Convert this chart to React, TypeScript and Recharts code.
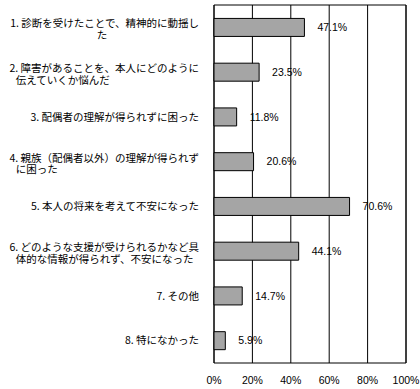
import React from "react";
import {
  BarChart,
  Bar,
  XAxis,
  YAxis,
  CartesianGrid,
  LabelList,
  ReferenceArea,
} from "recharts";

const categories = [
  "1. 診断を受けたことで、精神的に動揺し\nた",
  "2. 障害があることを、本人にどのように\n伝えていくか悩んだ",
  "3. 配偶者の理解が得られずに困った",
  "4. 親族（配偶者以外）の理解が得られず\nに困った",
  "5. 本人の将来を考えて不安になった",
  "6. どのような支援が受けられるかなど具\n体的な情報が得られず、不安になった",
  "7. その他",
  "8. 特になかった",
];
const percents = [47.1, 23.5, 11.8, 20.6, 70.6, 44.1, 14.7, 5.9];
const xTicks = [0, 20, 40, 60, 80, 100];

const data = categories.map((name, i) => ({ name, value: percents[i] }));

const JP = "'Noto Sans CJK JP', 'Noto Sans', sans-serif";
const FS = 10.5;

// rough width of a line: full-width glyphs are 1em, the rest about half
function textWidth(s: string) {
  let w = 0;
  for (const ch of s) w += ch.charCodeAt(0) > 255 ? 1 : 0.5;
  return w * FS;
}

function CategoryTick(props: any) {
  const { x, y, payload } = props;
  const lines: string[] = String(payload.value).split("\n");
  const right = x - 1;
  const lineH = 11.5;
  const top = y - ((lines.length - 1) * lineH) / 2 + (lines.length > 1 ? 2 : 0);
  const firstW = textWidth(lines[0]);
  const start = right - firstW;
  return (
    <text y={top} fontSize={FS} fontFamily={JP} fill="#000">
      {lines.map((ln, i) => {
        if (i === 0) {
          return (
            <tspan key={i} x={right} y={top} dy="0.35em" textAnchor="end">
              {ln}
            </tspan>
          );
        }
        const short = ln.length <= 1;
        return (
          <tspan
            key={i}
            x={short ? start + firstW / 2 : start + 11}
            y={top + i * lineH}
            dy="0.35em"
            textAnchor={short ? "middle" : "start"}
          >
            {ln}
          </tspan>
        );
      })}
    </text>
  );
}

export default function App() {
  return (
    <div style={{ position: "absolute", left: 0, top: 0 }}>
      <BarChart
        width={420}
        height={389}
        data={data}
        layout="vertical"
        margin={{ top: 5, right: 14, bottom: 0, left: 0 }}
        barCategoryGap="30%"
      >
        <CartesianGrid horizontal={false} stroke="#000" strokeWidth={1} />
        <XAxis
          type="number"
          domain={[0, 100]}
          ticks={xTicks}
          tickFormatter={(v) => `${v}%`}
          axisLine={false}
          tickLine={false}
          height={26}
          tickMargin={8}
          interval={0}
          tick={{ fontSize: 10.5, fontFamily: "'Liberation Sans', Arial, sans-serif", fill: "#000" }}
        />
        <YAxis
          type="category"
          dataKey="name"
          width={214}
          axisLine={false}
          tickLine={false}
          tickMargin={8}
          interval={0}
          tick={<CategoryTick />}
        />
        <ReferenceArea x1={0} x2={100} fill="none" stroke="#000" strokeWidth={1} fillOpacity={0} />
        <Bar dataKey="value" fill="#a5a5a5" stroke="#000" strokeWidth={1} isAnimationActive={false}>
          <LabelList
            dataKey="value"
            position="right"
            offset={13}
            formatter={(v: any) => `${v}%`}
            style={{ fontSize: 10.5, fontFamily: "'Liberation Sans', Arial, sans-serif", fill: "#000" }}
          />
        </Bar>
      </BarChart>
    </div>
  );
}
